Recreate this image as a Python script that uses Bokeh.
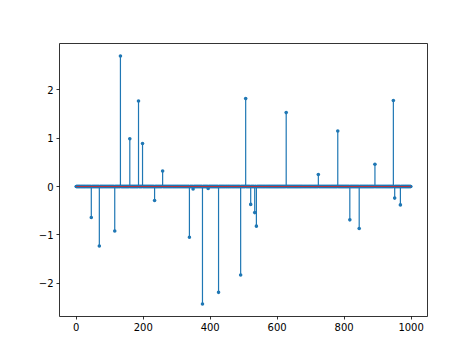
import numpy as np
from bokeh.plotting import figure
from bokeh.models import Range1d, FixedTicker, ColumnDataSource
from bokeh.embed import file_html
from bokeh.resources import INLINE

n_points = 1000
spike_idx = [45, 69, 115, 132, 160, 186, 198, 234, 258, 338, 349, 377, 394, 425,
             491, 506, 521, 533, 538, 627, 723, 781, 817, 845, 892, 947, 951, 968]
spike_val = [-0.64, -1.23, -0.92, 2.70, 0.99, 1.77, 0.89, -0.29, 0.32, -1.05, -0.05,
             -2.43, -0.04, -2.19, -1.83, 1.82, -0.37, -0.54, -0.82, 1.53, 0.25, 1.15,
             -0.69, -0.87, 0.46, 1.78, -0.24, -0.38]
x_ticks = [0, 200, 400, 600, 800, 1000]
y_ticks = [-2, -1, 0, 1, 2]

x = np.arange(n_points)
y = np.zeros(n_points)
y[spike_idx] = spike_val

p = figure(width=474, height=355, output_backend="svg", toolbar_location=None,
           x_range=Range1d(-49.95, 1048.95), y_range=Range1d(-2.69, 2.96),
           min_border_left=59, min_border_right=47, min_border_top=43, min_border_bottom=39)
p.background_fill_color = "white"
p.border_fill_color = "white"
p.outline_line_color = "black"
p.outline_line_width = 0.8
p.grid.visible = False

blue = "#1f77b4"
src = ColumnDataSource(dict(x=x, y=y, y0=np.zeros(n_points)))
p.segment(x0="x", y0="y0", x1="x", y1="y", source=src, line_color=blue, line_width=1.2)
p.scatter(x="x", y="y", source=src, size=3.6, fill_color=blue, line_color=blue, line_width=0)
p.line(x=[0, n_points - 1], y=[0, 0], line_color="#d62728", line_width=1.1, line_alpha=0.85)

for ax in (p.xaxis, p.yaxis):
    ax.axis_line_color = None
    ax.major_tick_out = 3
    ax.major_tick_in = 0
    ax.minor_tick_line_color = None
    ax.major_tick_line_color = "black"
    ax.major_tick_line_width = 0.8
    ax.major_label_text_font = "DejaVu Sans"
    ax.major_label_text_font_size = "10px"
    ax.major_label_text_color = "black"
    ax.major_label_standoff = 3
p.xaxis.ticker = FixedTicker(ticks=x_ticks)
p.yaxis.ticker = FixedTicker(ticks=y_ticks)
p.yaxis.major_label_overrides = {t: (str(t).replace("-", "\u2212")) for t in y_ticks}

open("out.html", "w").write(file_html(p, INLINE))
